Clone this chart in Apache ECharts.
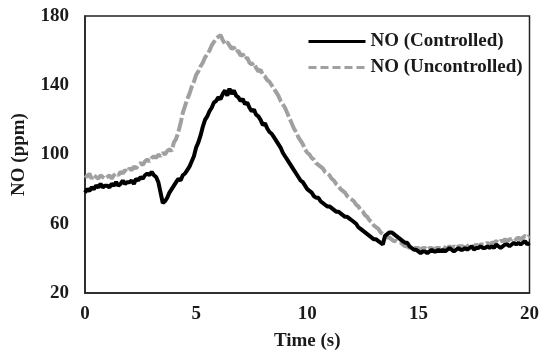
<!DOCTYPE html>
<html>
<head>
<meta charset="utf-8">
<script src="https://cdn.jsdelivr.net/npm/echarts@6/dist/echarts.min.js"></script>
<style>
  html, body { margin: 0; padding: 0; background: #fff; }
  #chart { width: 542px; height: 356px; }
</style>
</head>
<body>
<div id="chart"></div>
<script>
// time axis: 0 .. 20 s every 0.1 s
var timeStep = 0.1;

// NO (Controlled), ppm
var controlled = [
  78, 80, 79, 81, 80, 82, 81, 83, 81, 82,
  82, 81, 83, 82, 84, 82, 83, 85, 83, 84,
  84, 85, 83, 86, 85, 87, 86, 88, 89, 88,
  90, 88, 87, 84, 78, 72, 73, 75, 78, 80,
  82, 84, 86, 85, 88, 89, 91, 93, 96, 99,
  104, 107, 111, 116, 120, 122, 125, 127, 130, 131,
  133, 132, 135, 137, 134, 138, 135, 137, 134, 133,
  131, 132, 129, 130, 127, 125, 126, 123, 122, 120,
  117, 118, 115, 113, 112, 110, 108, 106, 104, 101,
  99, 97, 95, 93, 91, 89, 87, 85, 84, 82,
  80, 79, 78, 76, 75, 75, 73, 72, 71, 70,
  70, 69, 68, 67, 67, 66, 65, 64, 64, 63,
  62, 61, 60, 58, 57, 56, 55, 54, 53, 52,
  51, 51, 50, 49, 48, 53, 54, 55, 55, 54,
  53, 52, 51, 50, 49, 49, 47, 46, 45, 45,
  44, 43, 44, 44, 43, 44, 45, 44, 44, 45,
  44, 45, 44, 45, 46, 45, 44, 45, 46, 45,
  45, 46, 45, 46, 47, 45, 46, 46, 47, 46,
  46, 47, 46, 47, 46, 48, 47, 46, 47, 48,
  48, 47, 48, 49, 48, 49, 48, 49, 50, 48,
  49
];

// NO (Uncontrolled), ppm
var uncontrolled = [
  88, 87, 89, 86, 88, 87, 86, 88, 87, 86,
  87, 88, 86, 88, 89, 88, 90, 89, 91, 90,
  92, 91, 93, 92, 94, 95, 94, 96, 97, 96,
  98, 99, 98, 100, 99, 101, 100, 102, 103, 102,
  107, 109, 113, 118, 124, 128, 132, 135, 139, 142,
  146, 148, 151, 153, 156, 158, 160, 163, 165, 167,
  168, 169, 166, 164, 165, 163, 161, 162, 159, 160,
  157, 158, 155, 156, 153, 152, 153, 150, 148, 149,
  146, 145, 143, 142, 140, 138, 136, 134, 131, 129,
  127, 124, 121, 118, 115, 113, 110, 108, 106, 103,
  101, 100, 98, 97, 95, 94, 93, 92, 90, 89,
  88, 86, 85, 83, 82, 80, 79, 78, 76, 75,
  74, 73, 71, 70, 68, 67, 65, 64, 62, 61,
  59, 58, 57, 55, 54, 53, 52, 52, 51, 50,
  50, 49, 49, 48, 47, 47, 46, 47, 46, 46,
  46, 45, 46, 46, 45, 46, 46, 45, 46, 46,
  46, 47, 46, 46, 47, 46, 47, 46, 47, 47,
  47, 46, 47, 48, 47, 47, 48, 47, 48, 48,
  48, 49, 48, 49, 49, 50, 49, 50, 50, 51,
  50, 51, 51, 52, 51, 52, 51, 52, 53, 52,
  53
];

var seriesNames = ['NO (Controlled)', 'NO (Uncontrolled)'];

function toPairs(values) {
  var out = [];
  for (var i = 0; i < values.length; i++) {
    out.push([+(i * timeStep).toFixed(1), values[i]]);
  }
  return out;
}

var font = 'Liberation Serif';
var textColor = '#1a1a1a';
var grey = '#a0a0a0';

var chart = echarts.init(document.getElementById('chart'), null, { renderer: 'canvas' });

var option = {
  animation: false,
  backgroundColor: '#fff',
  grid: {
    left: 85, top: 16, right: 9, bottom: 56,
    show: true, borderColor: '#222', borderWidth: 1.5
  },
  legend: {
    orient: 'vertical',
    left: 307, top: 32,
    padding: 0,
    itemWidth: 57, itemHeight: 14, itemGap: 7,
    itemStyle: { opacity: 0 },
    data: [
      { name: seriesNames[0], lineStyle: { color: '#000', width: 3, type: 'solid' } },
      { name: seriesNames[1], lineStyle: { color: grey, width: 3, type: [8, 4] } }
    ],
    textStyle: { fontFamily: font, fontWeight: 'bold', fontSize: 19, color: textColor }
  },
  xAxis: {
    type: 'value',
    min: 0, max: 20, interval: 5,
    name: 'Time (s)',
    nameLocation: 'middle',
    nameGap: 39,
    nameTextStyle: { fontFamily: font, fontWeight: 'bold', fontSize: 19, color: textColor },
    axisLine: { show: true, lineStyle: { color: '#222', width: 1.5 } },
    axisTick: { show: false },
    splitLine: { show: false },
    axisLabel: { margin: 12, fontFamily: font, fontWeight: 'bold', fontSize: 19, color: textColor }
  },
  yAxis: {
    type: 'value',
    min: 20, max: 180, interval: 40,
    name: 'NO (ppm)',
    nameLocation: 'middle',
    nameGap: 56,
    nameTextStyle: { fontFamily: font, fontWeight: 'bold', fontSize: 19, color: textColor },
    axisLine: { show: true, lineStyle: { color: '#222', width: 1.5 } },
    axisTick: { show: false },
    splitLine: { show: false },
    axisLabel: { margin: 16, fontFamily: font, fontWeight: 'bold', fontSize: 19, color: textColor }
  },
  series: [
    {
      name: seriesNames[0],
      type: 'line',
      symbol: 'none',
      z: 3,
      data: toPairs(controlled),
      itemStyle: { color: '#000' },
      lineStyle: { color: '#000', width: 4 }
    },
    {
      name: seriesNames[1],
      type: 'line',
      symbol: 'none',
      z: 2,
      data: toPairs(uncontrolled),
      itemStyle: { color: grey },
      lineStyle: { color: grey, width: 4, type: [14, 3] }
    }
  ]
};

chart.setOption(option);
</script>
</body>
</html>
